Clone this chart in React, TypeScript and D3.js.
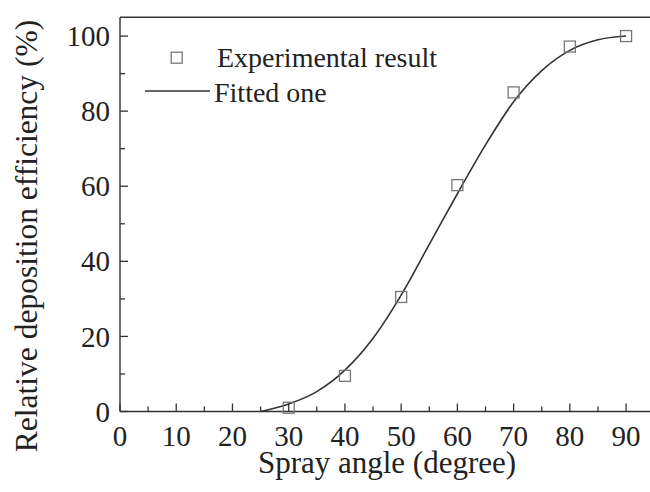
import React from "react";
import * as d3 from "d3";

const expAngles = [30, 40, 50, 60, 70, 80, 90];
const expValues = [1, 9.5, 30.5, 60.3, 85, 97.2, 100];

const fitAngles = [25, 30, 35, 40, 45, 50, 55, 60, 65, 70, 75, 80, 85, 90];
const fitValues = [0, 2, 5.3, 11, 19.5, 31, 44.5, 58, 71, 82.5, 90.8, 96.2, 99, 100];

const xMajorTicks = [0, 10, 20, 30, 40, 50, 60, 70, 80, 90];
const xMinorTicks = [5, 15, 25, 35, 45, 55, 65, 75, 85];
const yMajorTicks = [0, 20, 40, 60, 80, 100];
const yMinorTicks = [10, 30, 50, 70, 90];

const legendLabels = ["Experimental result", "Fitted one"];

const W = 650;
const H = 492;

export default function App() {
  const x = d3.scaleLinear().domain([0, 95]).range([120, 654.2]);
  const y = d3.scaleLinear().domain([0, 105]).range([411.5, 17.3]);

  const fitData = fitAngles.map((a, i) => [a, fitValues[i]] as [number, number]);
  const line = d3
    .line<[number, number]>()
    .x((d) => x(d[0]))
    .y((d) => y(d[1]))
    .curve(d3.curveMonotoneX);

  const axisColor = "#333";
  const font = "'Liberation Serif', 'Times New Roman', serif";
  const sq = 11;
  const x0 = x(0);
  const y0 = y(0);

  return (
    <svg
      width={W}
      height={H}
      style={{ position: "fixed", left: 0, top: 0, background: "#fff" }}
      fontFamily={font}
    >
      <rect x={0} y={0} width={W} height={H} fill="#fff" />
      {/* frame */}
      <line x1={x0} x2={W} y1={y(105)} y2={y(105)} stroke={axisColor} strokeWidth={1.4} />
      <line x1={x0} x2={x0} y1={y(105)} y2={y0} stroke={axisColor} strokeWidth={1.4} />
      <line x1={x0} x2={W} y1={y0} y2={y0} stroke={axisColor} strokeWidth={1.4} />

      {/* x ticks */}
      {xMajorTicks.map((t) => (
        <g key={"xm" + t}>
          <line x1={x(t)} x2={x(t)} y1={y0} y2={y0 - 8} stroke={axisColor} strokeWidth={1.3} />
          <text x={x(t)} y={446} fontSize={29} textAnchor="middle" fill="#222">
            {t}
          </text>
        </g>
      ))}
      {xMinorTicks.map((t) => (
        <line key={"xn" + t} x1={x(t)} x2={x(t)} y1={y0} y2={y0 - 5} stroke={axisColor} strokeWidth={1.3} />
      ))}

      {/* y ticks */}
      {yMajorTicks.map((t) => (
        <g key={"ym" + t}>
          <line x1={x0} x2={x0 + 8} y1={y(t)} y2={y(t)} stroke={axisColor} strokeWidth={1.3} />
          <text x={110} y={y(t)} dy="0.35em" fontSize={29} textAnchor="end" fill="#222">
            {t}
          </text>
        </g>
      ))}
      {yMinorTicks.map((t) => (
        <line key={"yn" + t} x1={x0} x2={x0 + 5} y1={y(t)} y2={y(t)} stroke={axisColor} strokeWidth={1.3} />
      ))}

      {/* fitted curve */}
      <path d={line(fitData) || ""} fill="none" stroke="#333" strokeWidth={1.6} />

      {/* experimental squares */}
      {expAngles.map((a, i) => (
        <rect
          key={"p" + a}
          x={x(a) - sq / 2}
          y={y(expValues[i]) - sq / 2}
          width={sq}
          height={sq}
          fill="none"
          stroke="#777"
          strokeWidth={1.3}
        />
      ))}

      {/* legend */}
      <rect x={176.7 - sq / 2} y={57.7 - sq / 2} width={sq} height={sq} fill="none" stroke="#777" strokeWidth={1.3} />
      <text x={217} y={66.7} fontSize={28} fill="#222">
        {legendLabels[0]}
      </text>
      <line x1={145} x2={210} y1={91} y2={91} stroke="#333" strokeWidth={1.6} />
      <text x={214} y={101.7} fontSize={28} fill="#222">
        {legendLabels[1]}
      </text>

      {/* axis titles */}
      <text x={387} y={473} fontSize={31} textAnchor="middle" fill="#222">
        Spray angle (degree)
      </text>
      <text
        transform={`translate(37, 236) rotate(-90)`}
        fontSize={31.5}
        textAnchor="middle"
        fill="#222"
      >
        Relative deposition efficiency (%)
      </text>
    </svg>
  );
}
